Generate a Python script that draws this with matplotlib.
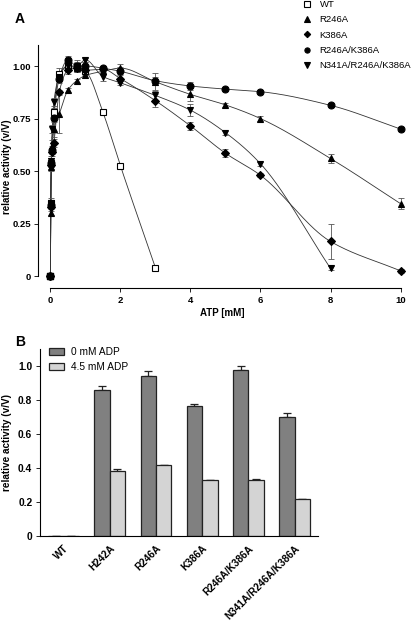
import numpy as np
import matplotlib
matplotlib.use("Agg")
import matplotlib.pyplot as plt
from matplotlib.lines import Line2D

plt.rcParams['font.family'] = ['Liberation Sans', 'DejaVu Sans']

# ---- panel A data: relative activity vs ATP ----
atp = [0, 0.01, 0.025, 0.05, 0.1, 0.25, 0.5, 0.75, 1, 1.5, 2, 3, 4, 5, 6, 8, 10]

wt_x = [0, 0.01, 0.025, 0.1, 0.25, 0.5, 0.75, 1, 1.5, 2, 3]
wt_y = [0, 0.35, 0.54, 0.78, 0.96, 1.0, 0.99, 0.975, 0.78, 0.525, 0.04]
wt_e = [0, 0.02, 0.02, 0.02, 0.03, 0.02, 0.02, 0.02, 0.01, 0.01, 0.01]

r246a_y = [0, 0.30, 0.52, 0.62, 0.70, 0.77, 0.885, 0.93, 0.955, 0.975, 0.99, 0.925, 0.865, 0.815, 0.75, 0.56, 0.345]
r246a_e = [0, 0.01, 0.02, 0.03, 0.04, 0.09, 0.01, 0.01, 0.01, 0.01, 0.02, 0.04, 0.03, 0.01, 0.01, 0.02, 0.025]

k386a_y = [0, 0.33, 0.53, 0.59, 0.635, 0.875, 0.98, 0.99, 0.98, 0.985, 0.94, 0.835, 0.715, 0.585, 0.48, 0.165, 0.025]
k386a_e = [0, 0.01, 0.02, 0.02, 0.02, 0.01, 0.02, 0.01, 0.01, 0.01, 0.02, 0.03, 0.02, 0.02, 0.01, 0.085, 0.01]

dbl_y = [0, 0.34, 0.54, 0.60, 0.755, 0.94, 1.03, 1.0, 1.0, 0.99, 0.975, 0.93, 0.905, 0.89, 0.878, 0.813, 0.70]
dbl_e = [0, 0.01, 0.02, 0.02, 0.02, 0.02, 0.02, 0.03, 0.02, 0.01, 0.02, 0.02, 0.02, 0.01, 0.01, 0.01, 0.01]

tri_x = [0, 0.01, 0.025, 0.05, 0.1, 0.25, 0.5, 0.75, 1, 1.5, 2, 3, 4, 5, 6, 8]
tri_y = [0, 0.35, 0.55, 0.70, 0.83, 0.95, 1.0, 1.0, 1.03, 0.95, 0.92, 0.86, 0.79, 0.683, 0.535, 0.037]
tri_e = [0, 0.01, 0.02, 0.02, 0.02, 0.02, 0.02, 0.02, 0.01, 0.02, 0.01, 0.02, 0.03, 0.01, 0.01, 0.01]

# ---- panel B data ----
mutants = ['WT', 'H242A', 'R246A', 'K386A', 'R246A/K386A', 'N341A/R246A/K386A']
adp0 = [0, 0.862, 0.944, 0.767, 0.974, 0.698]
adp0_err = [0, 0.023, 0.026, 0.008, 0.024, 0.024]
adp45 = [0, 0.385, 0.418, 0.329, 0.333, 0.219]
adp45_err = [0, 0.013, 0.0, 0.0, 0.005, 0.0]


def pchip(x, y, xs):
    """Shape preserving cubic through the points, for the drawn curve."""
    x = np.asarray(x, float)
    y = np.asarray(y, float)
    h = np.diff(x)
    d = np.diff(y) / h
    m = np.zeros_like(y)
    m[0], m[-1] = d[0], d[-1]
    for k in range(1, len(x) - 1):
        if d[k - 1] * d[k] > 0:
            w1 = 2 * h[k] + h[k - 1]
            w2 = h[k] + 2 * h[k - 1]
            m[k] = (w1 + w2) / (w1 / d[k - 1] + w2 / d[k])
    idx = np.clip(np.searchsorted(x, xs) - 1, 0, len(x) - 2)
    t = (xs - x[idx]) / h[idx]
    h00 = 2 * t**3 - 3 * t**2 + 1
    h10 = t**3 - 2 * t**2 + t
    h01 = -2 * t**3 + 3 * t**2
    h11 = t**3 - t**2
    return h00 * y[idx] + h10 * h[idx] * m[idx] + h01 * y[idx + 1] + h11 * h[idx] * m[idx + 1]


fig = plt.figure(figsize=(4.16, 6.21), dpi=100)

# ---------------- panel A ----------------
axA = fig.add_axes([0.0925, 0.5357, 0.883, 0.3918])

series = [
    ('WT', wt_x, wt_y, wt_e, 's', 'white'),
    ('R246A', atp, r246a_y, r246a_e, '^', 'black'),
    ('K386A', atp, k386a_y, k386a_e, 'D', 'black'),
    ('R246A/K386A', atp, dbl_y, dbl_e, 'o', 'black'),
    ('N341A/R246A/K386A', tri_x, tri_y, tri_e, 'v', 'black'),
]

handles = []
for name, xs, ys, es, mk, fc in series:
    xx = np.linspace(0, xs[-1], 600)
    axA.plot(xx, pchip(xs, ys, xx), color='#333333', lw=0.6, zorder=2)
    axA.errorbar(xs, ys, yerr=es, fmt='none', ecolor='#555555', elinewidth=0.6,
                 capsize=2.5, capthick=0.6, zorder=3)
    ms = 4.3 if mk == 'D' else 5.0
    axA.plot(xs, ys, linestyle='none', marker=mk, markersize=ms, markerfacecolor=fc,
             markeredgecolor='black', markeredgewidth=0.8, zorder=4, clip_on=False)
    handles.append(Line2D([], [], linestyle='none', marker=mk, markersize=ms * 0.75,
                          markerfacecolor=fc, markeredgecolor='black', markeredgewidth=0.8))

axA.plot([0], [0], marker='s', markersize=5, color='black', linestyle='none', zorder=5, clip_on=False)

axA.set_xlim(-0.34, 10.15)
axA.set_ylim(-0.058, 1.1)
axA.spines['top'].set_visible(False)
axA.spines['right'].set_visible(False)
axA.spines['left'].set_bounds(0, 1.1)
axA.spines['bottom'].set_bounds(0, 10)
axA.set_xticks([0, 2, 4, 6, 8, 10])
axA.set_yticks([0, 0.25, 0.5, 0.75, 1.0])
axA.set_yticklabels(['0', '0.25', '0.50', '0.75', '1.00'])
axA.tick_params(labelsize=6.8, length=3, width=0.6, pad=2.5)
for lab in axA.get_xticklabels() + axA.get_yticklabels():
    lab.set_fontweight('bold')
axA.set_xlabel('ATP [mM]', fontsize=7, fontweight='bold', labelpad=2)
axA.set_ylabel('relative activity (v/V)', fontsize=7, fontweight='bold')
axA.yaxis.set_label_coords(-0.072, 0.5)

fig.legend(handles, [s[0] for s in series], loc='upper left', bbox_to_anchor=(0.706, 1.014),
           frameon=False, fontsize=6.8, handlelength=1.0, handletextpad=0.85, labelspacing=0.68)

fig.text(0.048, 0.97, 'A', fontsize=10, fontweight='bold', va='center', ha='center')

# ---------------- panel B ----------------
axB = fig.add_axes([0.096, 0.1364, 0.668, 0.3016])
pos = np.arange(len(mutants))
w = 0.335
axB.bar(pos - w / 2, adp0, w, color='#808080', edgecolor='#222222', linewidth=0.9,
        label='0 mM ADP', zorder=2)
axB.bar(pos + w / 2, adp45, w, color='#d4d4d4', edgecolor='#222222', linewidth=0.9,
        label='4.5 mM ADP', zorder=2)
axB.errorbar(pos - w / 2, adp0, yerr=[np.zeros(len(adp0)), adp0_err], fmt='none',
             ecolor='#222222', elinewidth=0.9, capsize=2.8, capthick=0.9, zorder=1)
axB.errorbar(pos + w / 2, adp45, yerr=[np.zeros(len(adp45)), adp45_err], fmt='none',
             ecolor='#222222', elinewidth=0.9, capsize=2.8, capthick=0.9, zorder=1)

axB.set_xlim(-0.51, 5.5)
axB.set_ylim(0, 1.1)
axB.spines['top'].set_visible(False)
axB.spines['right'].set_visible(False)
axB.set_xticks(pos)
axB.set_xticklabels(mutants, rotation=45, ha='right', rotation_mode='anchor')
axB.set_yticks([0, 0.2, 0.4, 0.6, 0.8, 1.0])
axB.set_yticklabels(['0', '0.2', '0.4', '0.6', '0.8', '1.0'])
axB.tick_params(axis='y', labelsize=7.4, length=3, width=0.6, pad=2.5)
axB.tick_params(axis='x', labelsize=7.3, length=0, pad=5)
for lab in axB.get_xticklabels() + axB.get_yticklabels():
    lab.set_fontweight('bold')
axB.set_ylabel('relative activity (v/V)', fontsize=7.2, fontweight='bold')
axB.yaxis.set_label_coords(-0.1, 0.5)
axB.legend(loc='upper left', bbox_to_anchor=(0.0, 1.06), frameon=False, fontsize=7.3,
           handlelength=1.5, handleheight=0.6, handletextpad=0.7, labelspacing=0.5)

fig.text(0.048, 0.449, 'B', fontsize=10, fontweight='bold', va='center', ha='center')

fig.savefig('out.png', dpi=100)
